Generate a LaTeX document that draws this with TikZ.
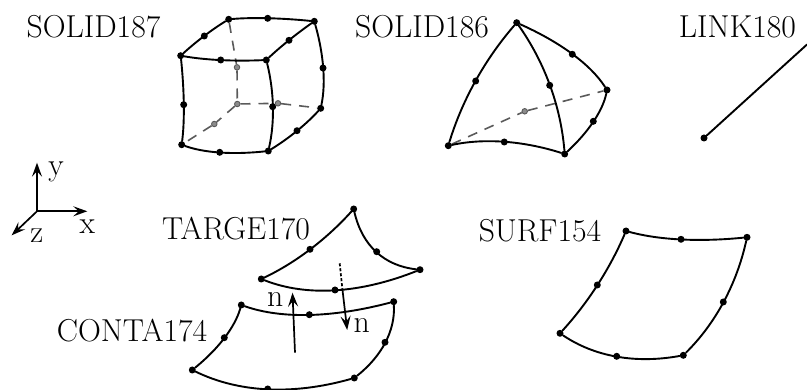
\documentclass[tikz,border=0pt]{standalone}
\usepackage{xcolor}
\usetikzlibrary{arrows.meta,calc}
\definecolor{hid}{HTML}{5A5A5A}
\newcommand{\edgeq}[3]{\draw[el] (#1) .. controls ($1.3333*(#2)-0.3333*(#3)$) and ($1.3333*(#2)-0.3333*(#1)$) .. (#3);}

\begin{document}
\begin{tikzpicture}[x=1pt,y=-1pt,
  nd/.style={circle,fill=black,inner sep=0pt,minimum size=7pt},
  hn/.style={circle,draw=hid,fill=hid!70,line width=0.9pt,inner sep=0pt,minimum size=5.5pt},
  el/.style={line width=1.9pt,line cap=round},
  hl/.style={line width=1.6pt,draw=hid,dash pattern=on 10pt off 8pt},
  arr/.style={-{Stealth[length=14pt,width=10pt,inset=5.5pt]},line width=1.7pt},
  lbl/.style={font=\fontsize{31.7}{33}\selectfont,inner sep=0pt}
]
\useasboundingbox (0,0) rectangle (807,390);
% labels
\node[lbl] (t187) at (93.5,27) {SOLID187};
\node[lbl] (t186) at (422,27) {SOLID186};
\node[lbl] (t180) at (737.5,27) {LINK180};
\node[lbl] (t170) at (236,229) {TARGE170};
\node[lbl] (t174) at (132,331) {CONTA174};
\node[lbl] (t154) at (540,231) {SURF154};
% hexahedron
\node[nd] (a1) at (228.7,19.3) {};
\node[nd] (a2) at (267.7,18.3) {};
\node[nd] (a3) at (314.3,21.3) {};
\node[nd] (a4) at (289,40.3) {};
\node[nd] (a5) at (266.3,60) {};
\node[nd] (a6) at (220.7,60) {};
\node[nd] (a7) at (180.7,55.7) {};
\node[nd] (a8) at (204.3,36) {};
\node[nd] (a9) at (183.7,104.7) {};
\node[nd] (a10) at (181.7,144.7) {};
\node[nd] (a11) at (219.7,152.3) {};
\node[nd] (a12) at (268.3,151) {};
\node[nd] (a13) at (272.7,106.7) {};
\node[nd] (a14) at (320.7,108.3) {};
\node[nd] (a15) at (297,130.7) {};
\node[nd] (a16) at (323,68) {};
\node[hn] (h1) at (237.3,104) {};
\node[hn] (h2) at (237,67.3) {};
\node[hn] (h3) at (278,103.3) {};
\node[hn] (h4) at (214.3,124) {};
\draw[hl] (a1) -- (h2) -- (h1);
\draw[hl] (h1) -- (h3) -- (a14);
\draw[hl] (h1) -- (h4) -- (a10);
\edgeq{a1}{a2}{a3}
\edgeq{a3}{a4}{a5}
\edgeq{a5}{a6}{a7}
\edgeq{a7}{a8}{a1}
\edgeq{a7}{a9}{a10}
\edgeq{a10}{a11}{a12}
\edgeq{a12}{a13}{a5}
\edgeq{a12}{a15}{a14}
\edgeq{a14}{a16}{a3}
% tetrahedron
\node[nd] (b1) at (516.7,22.7) {};
\node[nd] (b2) at (475.7,81) {};
\node[nd] (b3) at (448.3,145.7) {};
\node[nd] (b4) at (504.3,142) {};
\node[nd] (b5) at (564.7,154) {};
\node[nd] (b6) at (549.7,85.3) {};
\node[nd] (b7) at (572.3,54.3) {};
\node[nd] (b8) at (607,90) {};
\node[nd] (b9) at (593.3,121.3) {};
\node[hn] (h5) at (524.7,111.3) {};
\draw[hl] (b3) -- (h5) -- (b8);
\edgeq{b1}{b2}{b3}
\edgeq{b3}{b4}{b5}
\edgeq{b5}{b6}{b1}
\edgeq{b1}{b7}{b8}
\edgeq{b8}{b9}{b5}
% link
\node[nd] (l1) at (704,138) {};
\coordinate (l2) at (807,44.5);
\draw[el] (l1) -- (l2);
% axes
\coordinate (o) at (37,211.3);
\coordinate (oy) at (37,162.7);
\coordinate (ox) at (87.3,211.3);
\coordinate (oz) at (11.7,235.3);
\draw[arr] (o) -- (oy);
\draw[arr] (o) -- (ox);
\draw[arr] (o) -- (oz);
\node[lbl] (ty) at (56,172) {y};
\node[lbl] (tx) at (87.3,227) {x};
\node[lbl] (tz) at (36.7,235.5) {z};
% target
\node[nd] (c1) at (353.7,209) {};
\node[nd] (c2) at (310,249.3) {};
\node[nd] (c3) at (261.3,279) {};
\node[nd] (c4) at (335,290) {};
\node[nd] (c5) at (420,269.7) {};
\node[nd] (c6) at (376.7,251.7) {};
\edgeq{c1}{c2}{c3}
\edgeq{c3}{c4}{c5}
\edgeq{c5}{c6}{c1}
% contact
\node[nd] (d1) at (241.3,305) {};
\node[nd] (d2) at (309.3,314.7) {};
\node[nd] (d3) at (393.7,301.7) {};
\node[nd] (d4) at (385,342.3) {};
\node[nd] (d5) at (354.3,378) {};
\node[nd] (d6) at (267.7,389) {};
\node[nd] (d7) at (192.3,370) {};
\node[nd] (d8) at (224.3,337.7) {};
\edgeq{d1}{d2}{d3}
\edgeq{d3}{d4}{d5}
\edgeq{d5}{d6}{d7}
\edgeq{d7}{d8}{d1}
% normals
\coordinate (n1) at (295,352.7);
\coordinate (n2) at (292.5,292.7);
\coordinate (n3) at (339.7,263.3);
\coordinate (n4) at (342.3,288.3);
\coordinate (n5) at (347.2,330);
\draw[arr] (n1) -- (n2);
\draw[line width=1.7pt,dash pattern=on 3pt off 2pt] (n3) -- (n4);
\draw[arr] (n4) -- (n5);
\node[lbl] (tn1) at (275.2,299.3) {n};
\node[lbl] (tn2) at (361.7,325.5) {n};
% surface
\node[nd] (e1) at (626,231) {};
\node[nd] (e2) at (681,239.3) {};
\node[nd] (e3) at (747,237.3) {};
\node[nd] (e4) at (723.3,302) {};
\node[nd] (e5) at (683.3,355.3) {};
\node[nd] (e6) at (616.7,356.3) {};
\node[nd] (e7) at (560,333.3) {};
\node[nd] (e8) at (597.3,285) {};
\edgeq{e1}{e2}{e3}
\edgeq{e3}{e4}{e5}
\edgeq{e5}{e6}{e7}
\edgeq{e7}{e8}{e1}
\end{tikzpicture}
\end{document}
